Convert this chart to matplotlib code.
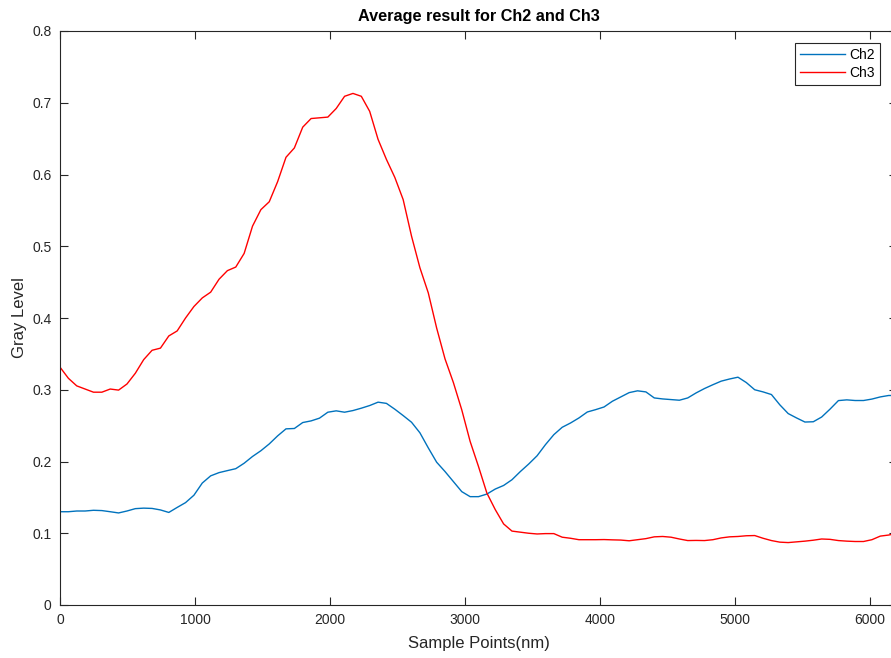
import numpy as np
import matplotlib
matplotlib.use("Agg")
import matplotlib.pyplot as plt

plt.rcParams['font.family'] = ['Liberation Sans', 'DejaVu Sans']

# Sampling grid (nm)
sample_step = 62
n_samples = 101

ch2 = [0.130, 0.130, 0.131, 0.131, 0.132, 0.1316, 0.130, 0.1283, 0.131, 0.1343,
       0.135, 0.1346, 0.1325, 0.129, 0.136, 0.1427, 0.153, 0.170, 0.180, 0.1845,
       0.1873, 0.190, 0.1976, 0.207, 0.215, 0.2245, 0.2357, 0.2455, 0.246, 0.2543,
       0.2566, 0.2604, 0.2687, 0.2706, 0.2687, 0.271, 0.2743, 0.278, 0.2827, 0.281,
       0.2729, 0.264, 0.2547, 0.240, 0.219, 0.199, 0.186, 0.172, 0.158, 0.151,
       0.151, 0.1546, 0.1616, 0.1666, 0.1746, 0.186, 0.1965, 0.208, 0.2235, 0.2374,
       0.2477, 0.2537, 0.2607, 0.269, 0.2723, 0.276, 0.284, 0.290, 0.296, 0.2985,
       0.297, 0.2886, 0.2872, 0.2863, 0.2854, 0.2886, 0.2956, 0.3017, 0.307, 0.312,
       0.315, 0.3175, 0.310, 0.300, 0.297, 0.2933, 0.279, 0.2668, 0.2607, 0.255,
       0.2554, 0.262, 0.273, 0.2849, 0.2859, 0.285, 0.285, 0.287, 0.290, 0.292,
       0.292]

ch3 = [0.3315, 0.316, 0.3054, 0.301, 0.2966, 0.2966, 0.301, 0.2995, 0.308, 0.323,
       0.342, 0.355, 0.358, 0.375, 0.382, 0.400, 0.416, 0.428, 0.436, 0.454,
       0.466, 0.471, 0.490, 0.528, 0.551, 0.562, 0.590, 0.624, 0.637, 0.666,
       0.678, 0.679, 0.680, 0.692, 0.709, 0.713, 0.709, 0.688, 0.649, 0.621,
       0.596, 0.565, 0.514, 0.470, 0.435, 0.386, 0.343, 0.310, 0.272, 0.228,
       0.193, 0.156, 0.133, 0.113, 0.103, 0.1015, 0.100, 0.099, 0.0995, 0.0995,
       0.0945, 0.093, 0.091, 0.091, 0.091, 0.0912, 0.0908, 0.0905, 0.0895, 0.091,
       0.0925, 0.095, 0.0955, 0.0945, 0.092, 0.0898, 0.090, 0.0898, 0.091, 0.0935,
       0.095, 0.0955, 0.0965, 0.0968, 0.093, 0.0898, 0.0876, 0.087, 0.088, 0.089,
       0.0903, 0.092, 0.0915, 0.0898, 0.089, 0.0885, 0.0885, 0.091, 0.096, 0.0975,
       0.100]

x_ticks = [0, 1000, 2000, 3000, 4000, 5000, 6000]
y_ticks = [0, 0.1, 0.2, 0.3, 0.4, 0.5, 0.6, 0.7, 0.8]

x = np.arange(n_samples) * sample_step

W, H = 891, 658
fig = plt.figure(figsize=(W / 100, H / 100), dpi=100)
# axes box: left spine at px 60, top at 31, bottom at 605, right spine just past the edge
ax = fig.add_axes([60 / W, (H - 605) / H, 837 / W, 574 / H])

axis_color = '#262626'
ax.plot(x, ch2, color='#0072BD', lw=1.0, label='Ch2')
ax.plot(x, ch3, color='#FF0000', lw=1.0, label='Ch3')

ax.set_xlim(0, 6200)
ax.set_ylim(0, 0.8)
ax.set_xticks(x_ticks)
ax.set_yticks(y_ticks)
ax.set_xticklabels([str(t) for t in x_ticks])
ax.set_yticklabels(['0' if t == 0 else f'{t:g}' for t in y_ticks])

ax.tick_params(direction='in', length=6, width=0.8, colors=axis_color,
               labelsize=10, top=True, right=True, pad=6)
for s in ax.spines.values():
    s.set_color(axis_color)
    s.set_linewidth(0.8)

ax.set_title('Average result for Ch2 and Ch3', fontsize=11.7, fontweight='bold',
             color='black', pad=7)
ax.set_xlabel('Sample Points(nm)', fontsize=12, color=axis_color, labelpad=6)
ax.set_ylabel('Gray Level', fontsize=12, color=axis_color, labelpad=4)

leg = fig.legend(loc='upper right', bbox_to_anchor=(880 / W, 1 - 43 / H),
                 bbox_transform=fig.transFigure, fontsize=10, frameon=True,
                 fancybox=False, framealpha=1, edgecolor=axis_color,
                 handlelength=3.2, handletextpad=0.35, labelspacing=0.3,
                 borderpad=0.35, borderaxespad=0)
leg.get_frame().set_linewidth(0.8)

fig.savefig('out.png', dpi=100)
